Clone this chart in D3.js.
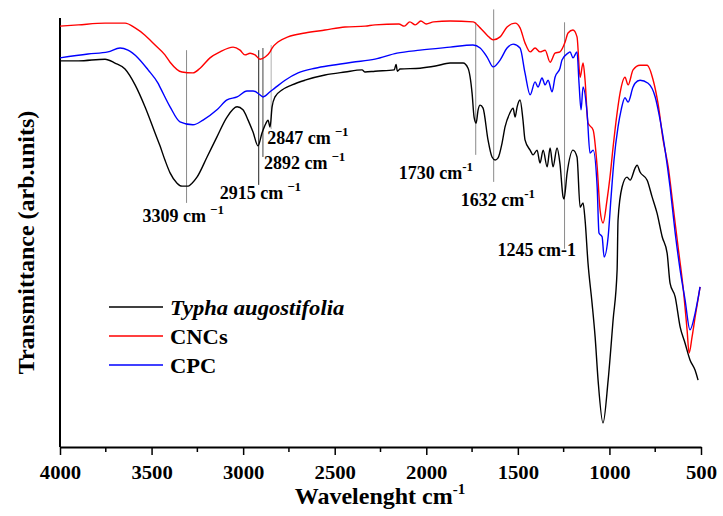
<!DOCTYPE html>
<html>
<head>
<meta charset="utf-8">
<script src="https://cdn.jsdelivr.net/npm/d3@7"></script>
<style>
  body { margin: 0; background: #fff; }
  svg { display: block; font-family: "Liberation Serif", "Times New Roman", serif; }
</style>
</head>
<body>
<div id="chart"></div>
<script>
// Data (wavenumber cm-1, transmittance arb. units)
const typha = [
  [4000, 90.0], [3900, 90.0], [3754, 90.4], [3700, 89.5], [3645, 88.1], [3590, 84.4],
  [3536, 79.3], [3481, 73.2], [3454, 70.2], [3427, 66.9], [3399, 63.9], [3361, 61.5],
  [3334, 60.8], [3300, 60.8], [3279, 61.5], [3252, 62.9], [3197, 67.6], [3143, 72.3],
  [3088, 76.9], [3033, 79.3], [3001, 78.6], [2973, 76.2], [2946, 73.4], [2919, 70.2],
  [2897, 73.2], [2875, 75.5], [2864, 76.2], [2853, 74.6], [2842, 79.3], [2826, 81.6],
  [2788, 83.2], [2733, 84.4], [2662, 85.5], [2553, 86.7], [2444, 87.4], [2351, 87.9],
  [2334, 87.4], [2280, 87.6], [2175, 87.9], [2165, 89.2], [2158, 87.6], [2143, 88.1],
  [2034, 88.3], [1950, 88.8], [1870, 89.5], [1799, 89.5], [1772, 88.3], [1750, 82.5],
  [1739, 76.9], [1728, 75.5], [1717, 78.6], [1706, 79.7], [1690, 79.0], [1663, 71.6],
  [1641, 67.6], [1624, 66.9], [1608, 67.4], [1586, 70.9], [1570, 74.6], [1543, 77.9],
  [1526, 79.0], [1515, 76.9], [1504, 79.3], [1488, 80.9], [1472, 76.2], [1461, 71.6],
  [1433, 69.2], [1417, 68.1], [1395, 69.2], [1379, 66.2], [1362, 69.2], [1340, 65.3],
  [1324, 69.7], [1308, 65.3], [1286, 69.7], [1270, 66.0], [1253, 58.3], [1248, 57.8],
  [1231, 63.9], [1199, 69.2], [1177, 67.6], [1160, 55.9], [1144, 56.9], [1133, 52.9],
  [1117, 42.9], [1095, 33.6], [1078, 25.6], [1062, 15.6], [1035, 5.6], [1007, 15.6],
  [980, 29.6], [958, 41.3], [953, 52.9], [931, 60.6], [904, 62.9], [887, 62.2],
  [860, 65.0], [849, 65.7], [833, 64.1], [794, 62.2], [767, 58.3], [740, 54.5],
  [712, 49.0], [685, 45.2], [669, 38.2], [641, 35.0], [614, 28.0], [587, 24.2],
  [560, 20.3], [532, 17.9], [516, 15.6]
];

const cncs = [
  [4000, 98.1], [3900, 98.4], [3754, 98.8], [3645, 98.8], [3590, 97.7], [3536, 96.0],
  [3481, 93.7], [3427, 91.4], [3399, 89.7], [3334, 87.4], [3274, 87.2], [3235, 88.3],
  [3181, 90.7], [3126, 92.1], [3055, 93.2], [3017, 92.5], [2990, 91.4], [2962, 91.8],
  [2935, 91.4], [2908, 90.4], [2880, 90.9], [2853, 92.1], [2842, 93.0], [2810, 94.4],
  [2755, 95.6], [2662, 96.5], [2553, 97.2], [2444, 97.9], [2334, 98.1], [2280, 98.4],
  [2150, 98.6], [2120, 98.1], [2090, 99.1], [2060, 98.4], [2030, 99.3], [2000, 98.6],
  [1960, 99.1], [1870, 99.3], [1745, 99.1], [1706, 97.7], [1668, 96.0], [1635, 94.9],
  [1597, 95.6], [1559, 97.9], [1515, 98.8], [1488, 97.7], [1461, 94.2], [1433, 92.1],
  [1406, 93.0], [1379, 92.1], [1351, 92.5], [1324, 89.7], [1297, 91.8], [1270, 92.1],
  [1242, 94.4], [1226, 96.5], [1199, 97.2], [1177, 95.6], [1160, 86.2], [1144, 89.5],
  [1133, 85.5], [1117, 75.5], [1089, 73.9], [1067, 65.3], [1051, 55.2], [1035, 52.2],
  [1013, 57.6], [997, 62.9], [980, 69.9], [958, 77.9], [942, 82.5], [915, 86.2],
  [898, 84.4], [871, 87.9], [833, 89.0], [794, 89.0], [761, 85.5], [734, 79.9],
  [707, 71.6], [679, 65.3], [652, 56.0], [625, 46.6], [598, 37.3], [576, 27.3],
  [565, 21.9], [549, 25.6], [532, 30.3], [505, 37.3]
];

const cpc = [
  [4000, 90.7], [3847, 91.6], [3738, 92.1], [3672, 93.0], [3629, 92.5], [3574, 90.7],
  [3519, 87.9], [3465, 84.8], [3454, 83.9], [3399, 79.3], [3345, 75.8], [3274, 75.1],
  [3219, 76.2], [3143, 78.6], [3088, 80.9], [3033, 81.6], [2979, 83.0], [2946, 83.0],
  [2908, 82.1], [2891, 81.6], [2853, 82.8], [2826, 83.7], [2771, 85.5], [2700, 87.2],
  [2607, 88.3], [2515, 89.0], [2405, 89.7], [2280, 90.4], [2160, 91.8], [2034, 92.5],
  [1870, 93.2], [1745, 93.7], [1706, 93.0], [1668, 90.9], [1635, 88.6], [1597, 90.2],
  [1559, 93.0], [1526, 93.9], [1488, 93.0], [1461, 87.2], [1433, 82.1], [1406, 85.1],
  [1390, 83.9], [1368, 86.0], [1351, 84.4], [1335, 85.5], [1313, 82.8], [1297, 86.2],
  [1270, 88.3], [1259, 90.2], [1226, 91.8], [1215, 92.1], [1199, 90.7], [1177, 92.1],
  [1166, 84.8], [1155, 78.6], [1144, 83.9], [1122, 77.9], [1106, 68.5], [1089, 69.2],
  [1067, 60.6], [1057, 49.9], [1040, 49.0], [1029, 44.3], [1007, 49.0], [991, 58.3],
  [975, 66.9], [953, 74.6], [936, 78.6], [915, 81.4], [898, 80.4], [871, 83.9],
  [860, 84.8], [833, 85.5], [789, 84.8], [750, 81.6], [723, 76.2], [696, 69.2],
  [669, 60.6], [641, 49.9], [614, 41.3], [587, 34.3], [560, 27.3], [532, 31.2],
  [505, 37.3]
];

const seriesNames = ['Typha augostifolia', 'CNCs', 'CPC'];
const seriesColors = ['#000000', '#ff0000', '#0000ff'];
const xTicks = [4000, 3500, 3000, 2500, 2000, 1500, 1000, 500];

// peak annotations: wavenumber, label, line top / bottom (arb. units)
const peakWn = [3309, 2915, 2892, 2847, 1730, 1632, 1245];
const peakText = ['3309 cm', '2915 cm', '2892 cm', '2847 cm', '1730 cm', '1632 cm', '1245 cm-1'];
const peakTop = [92.5, 92.5, 93.0, 93.7, 99.0, 102.0, 99.0];
const peakBottom = [56.9, 61.1, 67.6, 74.1, 68.1, 61.8, 46.2];

const W = 723, H = 516;
const M = { left: 60, right: 22, top: 18, bottom: 69 };

const svg = d3.select('#chart').append('svg')
  .attr('width', W)
  .attr('height', H);

const x = d3.scaleLinear().domain([4000, 500]).range([M.left, W - M.right]);
const y = d3.scaleLinear().domain([0, 100]).range([H - M.bottom, M.top]);

// axes
const xAxis = svg.append('g')
  .attr('transform', `translate(0,${H - M.bottom})`)
  .call(d3.axisBottom(x).tickValues(xTicks).tickSize(8).tickSizeOuter(0).tickFormat(d3.format('d')));
xAxis.select('.domain').attr('stroke-width', 2);
xAxis.selectAll('.tick line').attr('stroke-width', 1.5);
xAxis.selectAll('.tick text')
  .attr('y', 19)
  .attr('dy', '0.71em')
  .attr('transform', 'scale(1.15,1)')
  .style('font-family', '"Liberation Serif", serif')
  .style('font-size', '18px')
  .style('font-weight', 'bold');

const minor = d3.range(3750, 500, -500);
xAxis.selectAll('.minor')
  .data(minor)
  .enter().append('line')
  .attr('x1', d => x(d)).attr('x2', d => x(d))
  .attr('y1', 0).attr('y2', 5)
  .attr('stroke', '#000')
  .attr('stroke-width', 1.5);

svg.append('line')
  .attr('x1', M.left).attr('x2', M.left)
  .attr('y1', M.top).attr('y2', H - M.bottom)
  .attr('stroke', '#000')
  .attr('stroke-width', 2);

// annotation lines (drawn under the spectra)
const lineShade = ['#8a8a8a', '#222', '#444', '#b0b0b0', '#8a8a8a', '#8a8a8a', '#8a8a8a'];
svg.selectAll('.peak-line')
  .data(peakWn)
  .enter().append('line')
  .attr('class', 'peak-line')
  .attr('x1', d => x(d)).attr('x2', d => x(d))
  .attr('y1', (d, i) => y(peakTop[i]))
  .attr('y2', (d, i) => y(peakBottom[i]))
  .attr('stroke', (d, i) => lineShade[i])
  .attr('stroke-width', 1);

// spectra
const line = d3.line()
  .x(d => x(d[0]))
  .y(d => y(d[1]))
  .curve(d3.curveMonotoneX);

[typha, cncs, cpc].forEach((s, i) => {
  svg.append('path')
    .datum(s)
    .attr('fill', 'none')
    .attr('stroke', seriesColors[i])
    .attr('stroke-width', 1.4)
    .attr('stroke-linejoin', 'round')
    .attr('d', line);
});

// peak labels (offset from line, px)
const labelDx = [-44, -39, 1, -4, -77, -33, -67];
const labelY = [222, 199, 169, 144, 179, 206, 256];
const supGap = [4, 4, 4, 4, 0, 0, 0];
peakWn.forEach((wn, i) => {
  const t = svg.append('text')
    .attr('x', x(wn) + labelDx[i])
    .attr('y', labelY[i])
    .style('font-size', '18px')
    .style('font-weight', 'bold')
    .text(peakText[i]);
  if (i < 6) {
    t.append('tspan')
      .attr('dx', supGap[i])
      .attr('dy', -8)
      .style('font-size', '13px')
      .text(i < 4 ? '\u22121' : '-1');
  }
});

// legend
const legend = svg.append('g');
seriesNames.forEach((name, i) => {
  const base = 315 + i * 29;
  legend.append('line')
    .attr('x1', 109).attr('x2', 163)
    .attr('y1', base - 8).attr('y2', base - 8)
    .attr('stroke', seriesColors[i])
    .attr('stroke-width', 1.4);
  legend.append('text')
    .attr('transform', `translate(170,${base}) scale(1.13,1)`)
    .style('font-size', '20px')
    .style('font-weight', 'bold')
    .style('font-style', i === 0 ? 'italic' : 'normal')
    .text(name);
});

// axis titles
const xt = svg.append('text')
  .attr('x', 380)
  .attr('y', 504)
  .attr('text-anchor', 'middle')
  .style('font-size', '24px')
  .style('font-weight', 'bold')
  .text('Wavelenght cm');
xt.append('tspan')
  .attr('dy', -10)
  .style('font-size', '15px')
  .text('-1');

svg.append('text')
  .attr('transform', `translate(34,${(M.top + H - M.bottom) / 2 + 10}) rotate(-90)`)
  .attr('text-anchor', 'middle')
  .style('font-size', '24px')
  .style('font-weight', 'bold')
  .text('Transmittance (arb.units)');
</script>
</body>
</html>
